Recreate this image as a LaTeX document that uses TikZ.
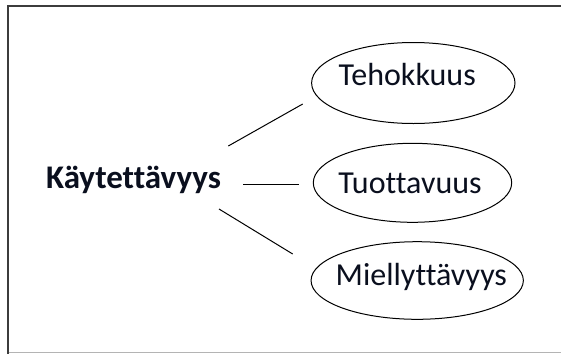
\documentclass[tikz,border=0pt]{standalone}
\usepackage{fontspec}
\setmainfont{Carlito}[Ligatures={NoCommon}]
\usetikzlibrary{shapes.geometric}

\definecolor{framedark}{HTML}{3C3C3C}
\definecolor{framelight}{HTML}{B4B4B4}
\definecolor{inktext}{HTML}{0A0F1E}

\tikzset{
  oval/.style={ellipse, draw=black, line width=1pt, inner sep=0pt},
  word/.style={inner sep=0pt, anchor=base, text=inktext,
               font=\fontsize{32}{38}\selectfont},
  mainword/.style={word, font=\fontsize{33}{39}\selectfont\bfseries},
  link/.style={draw=black, line width=1pt},
}

\begin{document}
\begin{tikzpicture}[x=1pt,y=-1pt]
  \useasboundingbox (0,0) rectangle (561,354);
  \clip (0,0) rectangle (561,354);

  % page frame (its right edge runs past the picture)
  \draw[framelight, line width=1pt] (7,352.8) -- (565,352.8);
  \draw[framedark, line width=2pt] (7.8,353.5) -- (7.8,5.7) -- (565,5.7);

  % central concept
  \node[mainword] (kay) at (133.5,188) {Käytettävyys};

  % three qualities in ovals
  \node[oval, minimum width=203.4pt, minimum height=81pt] (teh) at (413.3,83) {};
  \node[oval, minimum width=198.4pt, minimum height=79pt] (tuo) at (412.5,182.8) {};
  \node[oval, minimum width=212.3pt, minimum height=77.6pt] (mie) at (417.2,280.5) {};

  \node[word] (tehT) at (407.2,85.7) {Tehokkuus};
  \node[word] (tuoT) at (410,193.3) {Tuottavuus};
  \node[word] (mieT) at (421.3,285) {Miellyttävyys};

  % free-standing connector segments between the concept and the ovals
  \coordinate (a1) at (228.3,146);
  \coordinate (b1) at (302.7,104);
  \coordinate (a2) at (243.3,184.3);
  \coordinate (b2) at (299,184.3);
  \coordinate (a3) at (219,209);
  \coordinate (b3) at (292.7,254);

  \draw[link] (a1) -- (b1);
  \draw[link] (a2) -- (b2);
  \draw[link] (a3) -- (b3);
\end{tikzpicture}
\end{document}
